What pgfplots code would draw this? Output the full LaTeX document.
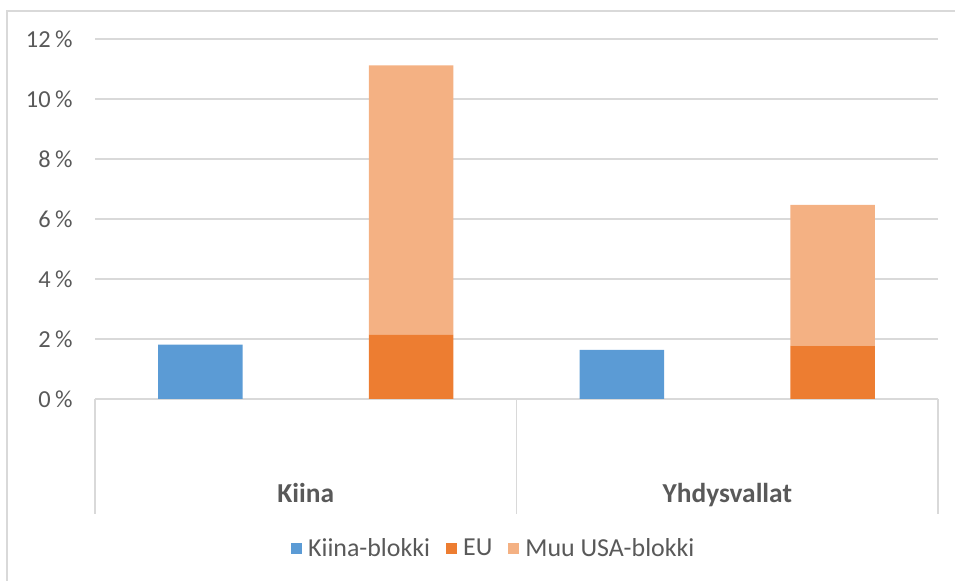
\documentclass[border=0pt]{standalone}
\usepackage{fontspec}
\setmainfont{Carlito}
\usepackage{pgfplots}
\pgfplotsset{compat=1.18}
\definecolor{cblue}{HTML}{5B9BD5}
\definecolor{corange}{HTML}{ED7D31}
\definecolor{clight}{HTML}{F4B183}
\definecolor{cgrid}{HTML}{D9D9D9}
\definecolor{ctext}{HTML}{595959}
\begin{document}
\begin{tikzpicture}
\begin{axis}[
  at={(95bp,182bp)}, anchor=south west,
  scale only axis, width=843bp, height=360bp,
  xmin=0, xmax=4, ymin=0, ymax=12,
  ybar stacked, bar width=0.4,
  clip=false,
  axis line style={draw=none},
  major tick length=0pt,
  ymajorgrids, grid style={cgrid, line width=1.3bp},
  ytick={0,2,4,6,8,10,12},
  yticklabel={\pgfmathprintnumber{\tick}\hspace{0.18em}\%},
  /pgf/number format/assume math mode=true,
  yticklabel style={font=\fontsize{24.5}{28}\selectfont, text=ctext, xshift=-19bp},
  xtick={1,3}, xticklabels={Kiina,Yhdysvallat},
  xticklabel style={font=\fontsize{27.5}{32}\selectfont\bfseries, text=ctext, anchor=base, yshift=-103bp},
  legend columns=-1,
  legend style={draw=none, at={(0.473,-0.414)}, anchor=center,
    font=\fontsize{26}{30}\selectfont, text=ctext,
    /tikz/every odd column/.append style={column sep=4bp},
    /tikz/every even column/.append style={column sep=14bp}},
  legend image code/.code={\fill[#1] (0bp,-6bp) rectangle (11bp,5bp);},
]
\addplot[fill=cblue, draw=none] coordinates {(0.5,1.81) (1.5,0) (2.5,1.64) (3.5,0)};
\addlegendentry{Kiina-blokki}
\addplot[fill=corange, draw=none] coordinates {(0.5,0) (1.5,2.14) (2.5,0) (3.5,1.78)};
\addlegendentry{EU}
\addplot[fill=clight, draw=none] coordinates {(0.5,0) (1.5,8.98) (2.5,0) (3.5,4.69)};
\addlegendentry{Muu USA-blokki}
\draw[cgrid, line width=1.3bp] (axis cs:0,0) -- (axis cs:0,-3.82);
\draw[cgrid, line width=1.3bp] (axis cs:2,0) -- (axis cs:2,-3.82);
\draw[cgrid, line width=1.3bp] (axis cs:4,0) -- (axis cs:4,-3.82);
\end{axis}
\draw[cgrid, line width=1.3bp] (7bp,0bp) -- (7bp,570bp) -- (960bp,570bp);
\pgfresetboundingbox
\useasboundingbox (0bp,0bp) rectangle (955bp,581bp);
\end{tikzpicture}
\end{document}
